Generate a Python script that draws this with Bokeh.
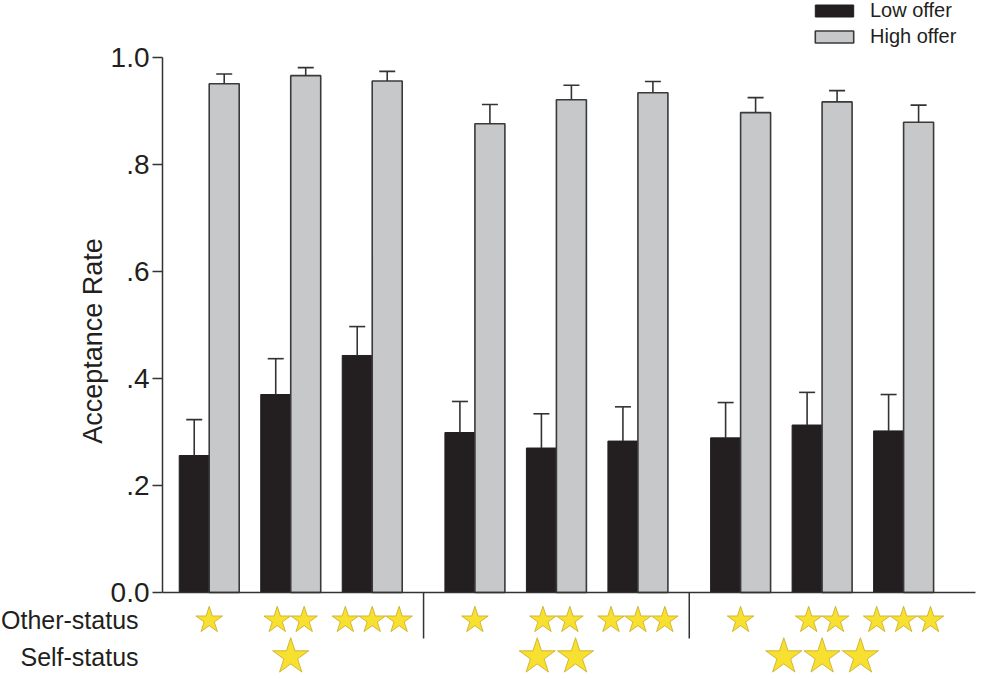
from math import pi
from bokeh.plotting import figure
from bokeh.models import (Range1d, FixedTicker, Whisker, TeeHead,
                          ColumnDataSource, Label, Legend, LegendItem)
from bokeh.embed import file_html
from bokeh.resources import INLINE

# ---------------- data ----------------
other_status = [1, 2, 3, 1, 2, 3, 1, 2, 3]   # stars under each pair
self_status = [1, 2, 3]                      # stars under each block
low_offer = [0.256, 0.370, 0.443, 0.299, 0.270, 0.283, 0.289, 0.313, 0.302]
low_err = [0.067, 0.067, 0.054, 0.058, 0.064, 0.064, 0.066, 0.061, 0.068]
high_offer = [0.951, 0.966, 0.956, 0.876, 0.921, 0.934, 0.897, 0.917, 0.879]
high_err = [0.018, 0.015, 0.018, 0.036, 0.027, 0.021, 0.028, 0.021, 0.032]
series_names = ["Low offer", "High offer"]
y_ticks = [0.0, 0.2, 0.4, 0.6, 0.8, 1.0]
y_tick_labels = ["0.0", ".2", ".4", ".6", ".8", "1.0"]
row_labels = ["Other-status", "Self-status"]
y_title = "Acceptance Rate"

# ---------------- layout constants ----------------
BLOCK_STEP = 3.26
BAR_W = 0.368
SMALL_GAP = 0.33
BIG_GAP = 0.47
X0, X1 = -2.561, 9.709          # whole canvas
Y0, Y1 = -0.1664, 1.1065
AXIS_X = -0.573                 # where the y axis sits
AXIS_END = 9.402                # right end of the baseline
FONT = "Liberation Sans"
INK = "#231F20"
LINE = "#333333"

pos = [b * BLOCK_STEP + i for b in range(3) for i in range(3)]
x_low = [p_ - BAR_W / 2 for p_ in pos]
x_high = [p_ + BAR_W / 2 for p_ in pos]

p = figure(width=1000, height=681, output_backend="svg", toolbar_location=None,
           x_range=Range1d(X0, X1), y_range=Range1d(Y0, Y1),
           x_axis_location=None, y_axis_location="left",
           min_border=0)
p.outline_line_color = None
p.grid.visible = False
p.background_fill_color = "white"
p.border_fill_color = "white"

src_low = ColumnDataSource(dict(x=x_low, top=low_offer,
                                upper=[v + e for v, e in zip(low_offer, low_err)]))
src_high = ColumnDataSource(dict(x=x_high, top=high_offer,
                                 upper=[v + e for v, e in zip(high_offer, high_err)]))

r_low = p.vbar(x="x", top="top", bottom=0, width=BAR_W, source=src_low,
               fill_color=INK, line_color=INK, line_width=1)
r_high = p.vbar(x="x", top="top", bottom=0, width=BAR_W, source=src_high,
                fill_color="#C7C8CA", line_color="#3a3a3a", line_width=1.6)

for src in (src_low, src_high):
    w = Whisker(source=src, base="x", lower="top", upper="upper", dimension="height",
                line_color=LINE, line_width=1.6,
                upper_head=TeeHead(size=16, line_color=LINE, line_width=1.6),
                lower_head=None, level="glyph")
    p.add_layout(w)

# baseline (x axis line)
p.segment(x0=[AXIS_X], y0=[0], x1=[AXIS_END], y1=[0], line_color=LINE, line_width=1.5)

# block dividers
div_x = [2 + (BLOCK_STEP - 2) / 2, BLOCK_STEP + 2 + (BLOCK_STEP - 2) / 2]
p.segment(x0=div_x, y0=[0, 0], x1=div_x, y1=[-0.086, -0.086],
          line_color=LINE, line_width=1.5)

# stars
sx, sy = [], []
for g, n in enumerate(other_status):
    for k in range(n):
        sx.append(pos[g] + (k - (n - 1) / 2) * SMALL_GAP)
        sy.append(-0.052)
bx, by = [], []
for b, n in enumerate(self_status):
    c = pos[3 * b + 1]
    for k in range(n):
        bx.append(c + (k - (n - 1) / 2) * BIG_GAP)
        by.append(-0.120)
p.scatter(x=sx, y=sy, marker="star", size=28, fill_color="#F7E02F",
          line_color="#C8AA22", line_width=0.8)
p.scatter(x=bx, y=by, marker="star", size=38, fill_color="#F7E02F",
          line_color="#C8AA22", line_width=0.8)

# y axis
ax = p.yaxis[0]
ax.fixed_location = AXIS_X
ax.ticker = FixedTicker(ticks=y_ticks, minor_ticks=[])
ax.major_label_overrides = {t: l for t, l in zip(y_ticks, y_tick_labels)}
ax.bounds = (0, 1)
ax.axis_line_color = LINE
ax.axis_line_width = 1.5
ax.major_tick_line_color = LINE
ax.major_tick_line_width = 1.5
ax.major_tick_out = 10
ax.major_tick_in = 0
ax.minor_tick_line_color = None
ax.major_label_standoff = 3
ax.major_label_text_font = FONT
ax.major_label_text_font_size = "28px"
ax.major_label_text_color = INK

# texts
p.add_layout(Label(x=-1.432, y=0.47, text=y_title, angle=pi / 2,
                   text_align="center", text_baseline="middle",
                   text_font=FONT, text_font_size="27px", text_color=INK))
p.add_layout(Label(x=-0.867, y=-0.052, text=row_labels[0], text_align="right",
                   text_baseline="middle", text_font=FONT, text_font_size="25px",
                   text_color=INK))
p.add_layout(Label(x=-0.867, y=-0.120, text=row_labels[1], text_align="right",
                   text_baseline="middle", text_font=FONT, text_font_size="25px",
                   text_color=INK))

# legend
legend = Legend(items=[LegendItem(label=series_names[0], renderers=[r_low]),
                       LegendItem(label=series_names[1], renderers=[r_high])],
                location=(810, 633), glyph_width=48, glyph_height=15,
                label_height=15, label_standoff=12, spacing=3, padding=0,
                margin=0, border_line_color=None, background_fill_alpha=0,
                label_text_font=FONT, label_text_font_size="20px",
                label_text_color=INK)
p.add_layout(legend)

open("out.html", "w").write(file_html(p, INLINE))
